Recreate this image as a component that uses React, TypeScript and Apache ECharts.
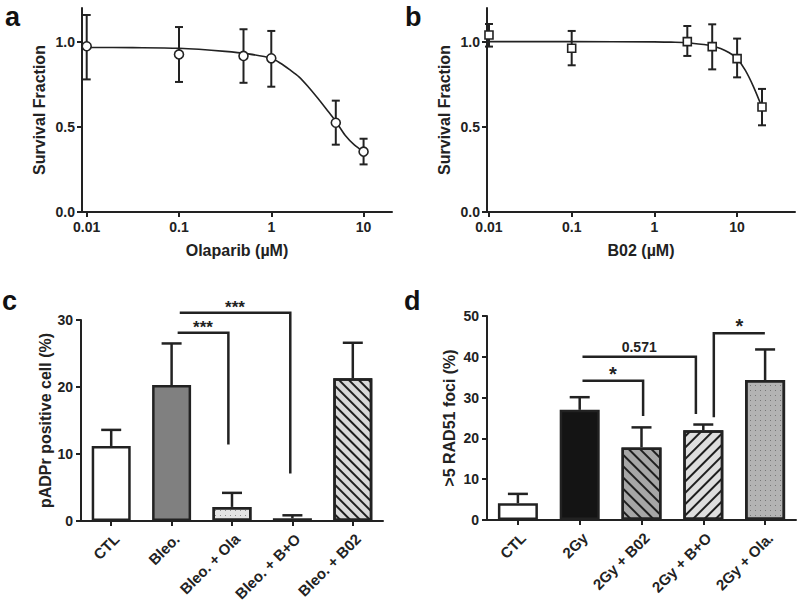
import React, { useEffect, useRef } from 'react';
import * as echarts from 'echarts';

// ---------- Panel a : Olaparib survival ----------
const olaConc = [0.01, 0.1, 0.5, 1, 5, 10];
const olaMean = [0.975, 0.927, 0.918, 0.904, 0.525, 0.355];
const olaLow = [0.78, 0.765, 0.76, 0.737, 0.396, 0.28];
const olaHigh = [1.159, 1.088, 1.075, 1.065, 0.655, 0.431];
// fitted curve (x as log10 of µM)
const olaFitLogConc = [-2, -1.5, -1, -0.5, -0.25, 0, 0.1, 0.2, 0.3, 0.4, 0.5, 0.6, 0.7, 0.8, 0.9, 1.0];
const olaFitValue = [0.968, 0.967, 0.963, 0.945, 0.93, 0.904, 0.875, 0.837, 0.795, 0.737, 0.672, 0.603, 0.532, 0.452, 0.395, 0.355];

// ---------- Panel b : B02 survival ----------
const b02Conc = [0.01, 0.1, 2.5, 5, 10, 20];
const b02Mean = [1.041, 0.963, 1.002, 0.973, 0.902, 0.618];
const b02Low = [0.973, 0.863, 0.918, 0.839, 0.792, 0.51];
const b02High = [1.106, 1.065, 1.094, 1.104, 1.02, 0.724];
const b02FitLogConc = [-2, -1, 0, 0.2, 0.4, 0.6, 0.7, 0.8, 0.9, 1.0, 1.1, 1.2, 1.3];
const b02FitValue = [1.002, 1.002, 1.001, 0.999, 0.996, 0.985, 0.977, 0.962, 0.938, 0.902, 0.833, 0.735, 0.617];

const concTicks = [0.01, 0.1, 1, 10];
const survTicks = [0, 0.5, 1.0];

// ---------- Panel c : pADPr ----------
const pCats = ['CTL', 'Bleo.', 'Bleo. + Ola', 'Bleo. + B+O', 'Bleo. + B02'];
const pMean = [11.2, 20.3, 2.1, 0.4, 21.3];
const pErr = [2.4, 6.2, 2.1, 0.45, 5.3];
// brackets: start/end (category position), top, left end, right end, label
const pBrStart = [1.1, 1.135];
const pBrEnd = [1.94, 2.965];
const pBrTop = [28.1, 31.1];
const pBrLeftEnd = [28.1, 31.1];
const pBrRightEnd = [11.4, 7.1];
const pBrLabel = ['***', '***'];

// ---------- Panel d : RAD51 ----------
const rCats = ['CTL', '2Gy', '2Gy + B02', '2Gy + B+O', '2Gy + Ola.'];
const rMean = [4.1, 27.0, 17.8, 22.0, 34.3];
const rErr = [2.3, 3.1, 4.9, 1.4, 7.5];
const rBrStart = [1.045, 1.045, 3.17];
const rBrEnd = [2.026, 2.88, 3.996];
const rBrTop = [34.1, 40.0, 45.8];
const rBrLeftEnd = [34.1, 40.0, 25.2];
const rBrRightEnd = [25.5, 26.0, 45.8];
const rBrLabel = ['*', '0.571', '*'];

const FONT = '"Liberation Sans", Arial, Helvetica, sans-serif';
const INK = '#222222';

const lg = (v: number) => Math.log10(v);

function fmtConc(v: number) {
  let best = concTicks[0];
  let d = Infinity;
  for (const t of concTicks) {
    const dd = Math.abs(lg(t) - v);
    if (dd < d) { d = dd; best = t; }
  }
  return String(best);
}

const hatchDecal = (dir: number, gap: number) => ({
  symbol: 'rect',
  symbolSize: 1,
  dashArrayX: [1, 0],
  dashArrayY: [1.6, gap],
  rotation: dir * Math.PI / 4,
  color: '#1e1e1e',
});
const dotDecal = (color: string) => ({
  symbol: 'rect',
  symbolSize: 1,
  dashArrayX: [1, 4],
  dashArrayY: [1, 4],
  rotation: 0,
  color,
});

export default function App() {
  const ref = useRef<HTMLDivElement>(null);
  useEffect(() => {
    if (!ref.current) return;
    const chart = echarts.init(ref.current, undefined, { renderer: 'svg' });

    const axisLine = { show: true, onZero: false, lineStyle: { color: INK, width: 2 } };
    const axisTick = { show: true, length: 5, lineStyle: { color: INK, width: 2 } };
    const labelStyle = { color: INK, fontFamily: FONT, fontWeight: 'bold' as const, fontSize: 14 };
    const nameStyle = { color: INK, fontFamily: FONT, fontWeight: 'bold' as const, fontSize: 16 };

    const survX = (gi: number, min: number, max: number, name: string) => ({
      type: 'value', gridIndex: gi, min, max,
      axisLine, splitLine: { show: false },
      axisTick: { ...axisTick, customValues: concTicks.map(lg) },
      axisLabel: { ...labelStyle, margin: 8, customValues: concTicks.map(lg), formatter: (v: number) => fmtConc(v) },
      name, nameLocation: 'middle', nameGap: 30, nameTextStyle: nameStyle,
    });
    const survY = (gi: number) => ({
      type: 'value', gridIndex: gi, min: 0, max: 1.2,
      axisLine, splitLine: { show: false },
      axisTick: { ...axisTick, customValues: survTicks },
      axisLabel: { ...labelStyle, margin: 7, customValues: survTicks, formatter: (v: number) => v.toFixed(1) },
      name: 'Survival Fraction', nameLocation: 'middle', nameGap: 35, nameTextStyle: nameStyle,
    });

    const errRender = (w: number) => (params: any, api: any) => {
      const x = api.value(0);
      const p1 = api.coord([x, api.value(1)]);
      const p2 = api.coord([x, api.value(2)]);
      const st = { stroke: INK, lineWidth: 2 };
      return {
        type: 'group',
        children: [
          { type: 'line', shape: { x1: p1[0], y1: p1[1], x2: p2[0], y2: p2[1] }, style: st },
          { type: 'line', shape: { x1: p1[0] - w, y1: p1[1], x2: p1[0] + w, y2: p1[1] }, style: st },
          { type: 'line', shape: { x1: p2[0] - w, y1: p2[1], x2: p2[0] + w, y2: p2[1] }, style: st },
        ],
      };
    };

    const barErrRender = (params: any, api: any) => {
      const i = api.value(0);
      const p1 = api.coord([i, api.value(1)]);
      const p2 = api.coord([i, api.value(2)]);
      const w = 10;
      const st = { stroke: INK, lineWidth: 2.5 };
      return {
        type: 'group',
        children: [
          { type: 'line', shape: { x1: p1[0], y1: p1[1], x2: p2[0], y2: p2[1] }, style: st },
          { type: 'line', shape: { x1: p2[0] - w, y1: p2[1], x2: p2[0] + w, y2: p2[1] }, style: st },
        ],
      };
    };

    const bracketRender = (labels: string[], fontSize: number[]) => (params: any, api: any) => {
      const idx = params.dataIndex;
      const x0 = api.coord([0, 0])[0];
      const band = api.size([1, 0])[0];
      const xs = x0 + api.value(0) * band;
      const xe = x0 + api.value(1) * band;
      const yTop = api.coord([0, api.value(2)])[1];
      const yL = api.coord([0, api.value(3)])[1];
      const yR = api.coord([0, api.value(4)])[1];
      const lab = labels[idx];
      const fs = lab === '0.571' ? fontSize[1] : fontSize[0];
      return {
        type: 'group',
        children: [
          {
            type: 'polyline',
            shape: { points: [[xs, yL], [xs, yTop], [xe, yTop], [xe, yR]] },
            style: { stroke: INK, lineWidth: 2.5, fill: 'none' },
          },
          {
            type: 'text',
            x: (xs + xe) / 2,
            y: yTop - (lab === '0.571' ? 3 : -3),
            style: {
              text: lab, align: 'center', verticalAlign: 'bottom',
              fontFamily: FONT, fontWeight: 'bold', fontSize: fs, fill: INK,
            },
          },
        ],
      };
    };

    const catX = (gi: number, cats: string[]) => ({
      type: 'category', gridIndex: gi, data: cats,
      axisLine: { show: true, onZero: false, lineStyle: { color: INK, width: 2 } },
      axisTick: { show: true, alignWithLabel: true, length: 5, lineStyle: { color: INK, width: 2 } },
      axisLabel: { ...labelStyle, fontSize: 15, rotate: 45, margin: 10, interval: 0, align: 'right', verticalAlign: 'top' },
      splitLine: { show: false },
    });
    const barY = (gi: number, max: number, name: string, gap: number) => ({
      type: 'value', gridIndex: gi, min: 0, max, interval: 10,
      axisLine, splitLine: { show: false },
      axisTick: { ...axisTick },
      axisLabel: { ...labelStyle, margin: 8 },
      name, nameLocation: 'middle', nameGap: gap, nameTextStyle: nameStyle,
    });

    const pStyles = [
      { color: '#ffffff' },
      { color: '#808080' },
      { color: '#e4e4e4', decal: dotDecal('#8a8a8a') },
      { color: '#2a2a2a' },
      { color: '#d9d9d9', decal: hatchDecal(1, 4.5) },
    ];
    const rStyles = [
      { color: '#ffffff' },
      { color: '#141414' },
      { color: '#a6a6a6', decal: hatchDecal(1, 5.5) },
      { color: '#dedede', decal: hatchDecal(-1, 5.5) },
      { color: '#b3b3b3', decal: dotDecal('#777777') },
    ];

    const option: any = {
      animation: false,
      backgroundColor: '#ffffff',
      textStyle: { fontFamily: FONT },
      grid: [
        { left: 82, top: 8, width: 310, height: 204 },
        { left: 487, top: 8, width: 308, height: 204 },
        { left: 81, top: 320, width: 302, height: 201 },
        { left: 487, top: 316, width: 309, height: 204 },
      ],
      xAxis: [
        survX(0, -2.051, 1.308, 'Olaparib (µM)'),
        survX(1, -2.024, 1.7, 'B02 (µM)'),
        catX(2, pCats),
        catX(3, rCats),
      ],
      yAxis: [
        survY(0),
        survY(1),
        barY(2, 30, 'pADPr positive cell (%)', 28),
        barY(3, 50, '>5 RAD51 foci (%)', 30),
      ],
      series: [
        // panel a
        {
          type: 'line', xAxisIndex: 0, yAxisIndex: 0, smooth: 0.3,
          showSymbol: false, symbol: 'none', lineStyle: { color: INK, width: 1.6 },
          data: olaFitLogConc.map((c, i) => [c, olaFitValue[i]]), z: 2,
        },
        {
          type: 'custom', xAxisIndex: 0, yAxisIndex: 0, renderItem: errRender(4),
          encode: { x: 0, y: [1, 2] },
          data: olaConc.map((c, i) => [lg(c), olaLow[i], olaHigh[i]]), z: 3,
        },
        {
          type: 'scatter', xAxisIndex: 0, yAxisIndex: 0, symbol: 'circle', symbolSize: 9,
          itemStyle: { color: '#ffffff', borderColor: INK, borderWidth: 1.6, opacity: 1 },
          data: olaConc.map((c, i) => [lg(c), olaMean[i]]), z: 4,
        },
        // panel b
        {
          type: 'line', xAxisIndex: 1, yAxisIndex: 1, smooth: 0.3,
          showSymbol: false, symbol: 'none', lineStyle: { color: INK, width: 1.6 },
          data: b02FitLogConc.map((c, i) => [c, b02FitValue[i]]), z: 2,
        },
        {
          type: 'custom', xAxisIndex: 1, yAxisIndex: 1, renderItem: errRender(4),
          encode: { x: 0, y: [1, 2] },
          data: b02Conc.map((c, i) => [lg(c), b02Low[i], b02High[i]]), z: 3,
        },
        {
          type: 'scatter', xAxisIndex: 1, yAxisIndex: 1, symbol: 'rect', symbolSize: 8,
          itemStyle: { color: '#ffffff', borderColor: INK, borderWidth: 1.6, opacity: 1 },
          data: b02Conc.map((c, i) => [lg(c), b02Mean[i]]), z: 4,
        },
        // panel c
        {
          type: 'custom', xAxisIndex: 2, yAxisIndex: 2, renderItem: barErrRender,
          encode: { x: 0, y: [1, 2] },
          data: pMean.map((m, i) => [i, m, m + pErr[i]]), z: 1,
        },
        {
          type: 'bar', xAxisIndex: 2, yAxisIndex: 2, barWidth: 39,
          data: pMean.map((m, i) => ({
            value: m,
            itemStyle: { ...pStyles[i], borderColor: INK, borderWidth: 2.5 },
          })), z: 2,
        },
        {
          type: 'custom', xAxisIndex: 2, yAxisIndex: 2, clip: false,
          renderItem: bracketRender(pBrLabel, [17, 14]),
          encode: { x: 0, y: [2] },
          data: pBrStart.map((s, i) => [s, pBrEnd[i], pBrTop[i], pBrLeftEnd[i], pBrRightEnd[i]]), z: 3,
        },
        // panel d
        {
          type: 'custom', xAxisIndex: 3, yAxisIndex: 3, renderItem: barErrRender,
          encode: { x: 0, y: [1, 2] },
          data: rMean.map((m, i) => [i, m, m + rErr[i]]), z: 1,
        },
        {
          type: 'bar', xAxisIndex: 3, yAxisIndex: 3, barWidth: 40,
          data: rMean.map((m, i) => ({
            value: m,
            itemStyle: { ...rStyles[i], borderColor: INK, borderWidth: 2.5 },
          })), z: 2,
        },
        {
          type: 'custom', xAxisIndex: 3, yAxisIndex: 3, clip: false,
          renderItem: bracketRender(rBrLabel, [20, 14]),
          encode: { x: 0, y: [2] },
          data: rBrStart.map((s, i) => [s, rBrEnd[i], rBrTop[i], rBrLeftEnd[i], rBrRightEnd[i]]), z: 3,
        },
      ],
      graphic: [
        { type: 'text', x: 5, y: 17, style: { text: 'a', fontFamily: FONT, fontWeight: 'bold', fontSize: 27, fill: '#111', verticalAlign: 'middle' } },
        { type: 'text', x: 405, y: 17, style: { text: 'b', fontFamily: FONT, fontWeight: 'bold', fontSize: 27, fill: '#111', verticalAlign: 'middle' } },
        { type: 'text', x: 2, y: 301, style: { text: 'c', fontFamily: FONT, fontWeight: 'bold', fontSize: 27, fill: '#111', verticalAlign: 'middle' } },
        { type: 'text', x: 404, y: 301, style: { text: 'd', fontFamily: FONT, fontWeight: 'bold', fontSize: 27, fill: '#111', verticalAlign: 'middle' } },
      ],
    };
    chart.setOption(option);
    return () => chart.dispose();
  }, []);
  return (
    <div
      ref={ref}
      style={{ position: 'fixed', left: 0, top: 0, width: 800, height: 608, background: '#fff' }}
    />
  );
}
